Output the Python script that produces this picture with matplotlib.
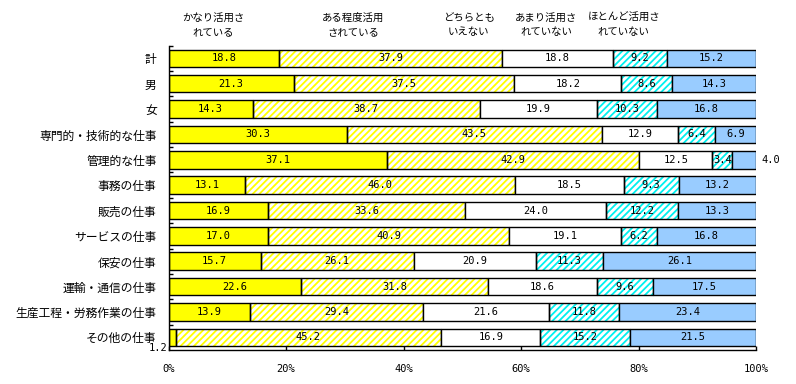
import matplotlib
matplotlib.use("Agg")
import numpy as np
import matplotlib.pyplot as plt
import matplotlib.transforms as mtransforms

# ==================== データ ====================
categories = ["計", "男", "女", "専門的・技術的な仕事", "管理的な仕事", "事務の仕事",
              "販売の仕事", "サービスの仕事", "保安の仕事", "運輸・通信の仕事",
              "生産工程・労務作業の仕事", "その他の仕事"]

series_names = ["かなり活用さ\nれている", "ある程度活用\nされている", "どちらとも\nいえない",
                "あまり活用さ\nれていない", "ほとんど活用さ\nれていない"]

very_much = [18.8, 21.3, 14.3, 30.3, 37.1, 13.1, 16.9, 17.0, 15.7, 22.6, 13.9, 1.2]
somewhat = [37.9, 37.5, 38.7, 43.5, 42.9, 46.0, 33.6, 40.9, 26.1, 31.8, 29.4, 45.2]
neutral = [18.8, 18.2, 19.9, 12.9, 12.5, 18.5, 24.0, 19.1, 20.9, 18.6, 21.6, 16.9]
not_much = [9.2, 8.6, 10.3, 6.4, 3.4, 9.3, 12.2, 6.2, 11.3, 9.6, 11.8, 15.2]
hardly = [15.2, 14.3, 16.8, 6.9, 4.0, 13.2, 13.3, 16.8, 26.1, 17.5, 23.4, 21.5]

xtick_vals = [0, 20, 40, 60, 80, 100]
xtick_labels = ["0%", "20%", "40%", "60%", "80%", "100%"]

# 見た目
FILL = ["#FFFF00", "white", "white", "white", "#99CCFF"]
HATCH = [None, "/////", None, "/////", None]
HATCH_COLOR = [None, "#FFFF00", None, "#00F0F0", None]

JP = ["Noto Sans CJK JP", "DejaVu Sans"]
NUM = "DejaVu Sans Mono"

plt.rcParams["hatch.linewidth"] = 1.3

values = np.array([very_much, somewhat, neutral, not_much, hardly])
# 100%積み上げ
shares = values / values.sum(axis=0) * 100

fig = plt.figure(figsize=(7.96, 3.84), dpi=100)
ax = fig.add_axes([168.5 / 796, 34 / 384, 587.5 / 796, 304.3 / 384])

y = np.arange(len(categories))
bar_h = 0.69
left = np.zeros(len(categories))

for k in range(len(series_names)):
    w = shares[k]
    if HATCH[k]:
        ax.barh(y, w, left=left, height=bar_h, color=FILL[k], hatch=HATCH[k],
                edgecolor=HATCH_COLOR[k], linewidth=0, zorder=2)
        ax.barh(y, w, left=left, height=bar_h, fill=False, edgecolor="black",
                linewidth=1, zorder=3)
    else:
        ax.barh(y, w, left=left, height=bar_h, color=FILL[k], edgecolor="black",
                linewidth=1, zorder=3)

    for i in range(len(categories)):
        txt = f"{values[k][i]:.1f}"
        cx = left[i] + w[i] / 2
        if k == 4 and i == 4:
            # 細すぎるので外側に
            ax.annotate(txt, xy=(100, i), xytext=(3.6, 0), textcoords="offset points",
                        ha="left", va="center", fontsize=7.5, family=NUM)
        elif k == 0 and i == len(categories) - 1:
            ax.annotate(txt, xy=(0, i), xytext=(-1, -7.6), textcoords="offset points",
                        ha="right", va="center", fontsize=7.5, family=NUM)
        else:
            ax.text(cx, i, txt, ha="center", va="center", fontsize=7.5, family=NUM,
                    zorder=4)
    left = left + w

ax.set_xlim(0, 100)
ax.set_ylim(len(categories) - 0.5, -0.5)

ax.set_xticks(xtick_vals)
ax.set_xticklabels(xtick_labels, family=NUM, fontsize=7.5)
ax.tick_params(axis="x", direction="in", length=3, width=1, pad=10)

ax.set_yticks(y)
ax.set_yticklabels(categories, family=JP, fontsize=8.5)
ax.tick_params(axis="y", which="major", length=0, pad=8.5)
ax.set_yticks(np.arange(-0.5, len(categories) - 0.5, 1), minor=True)
ax.tick_params(axis="y", which="minor", direction="in", length=3, width=1)

for s in ["top", "right"]:
    ax.spines[s].set_visible(False)
for s in ["left", "bottom"]:
    ax.spines[s].set_linewidth(1)
    ax.spines[s].set_zorder(5)

# 凡例代わりの見出し
head_x = [7.6, 31.4, 51.1, 64.3, 77.5]
trans = mtransforms.blended_transform_factory(ax.transData, fig.transFigure)
for hx, name in zip(head_x, series_names):
    ax.text(hx, 1 - 25 / 384, name, transform=trans, ha="center", va="center",
            fontsize=7.5, family=JP, linespacing=1.55)

fig.savefig("out.png", dpi=100)
